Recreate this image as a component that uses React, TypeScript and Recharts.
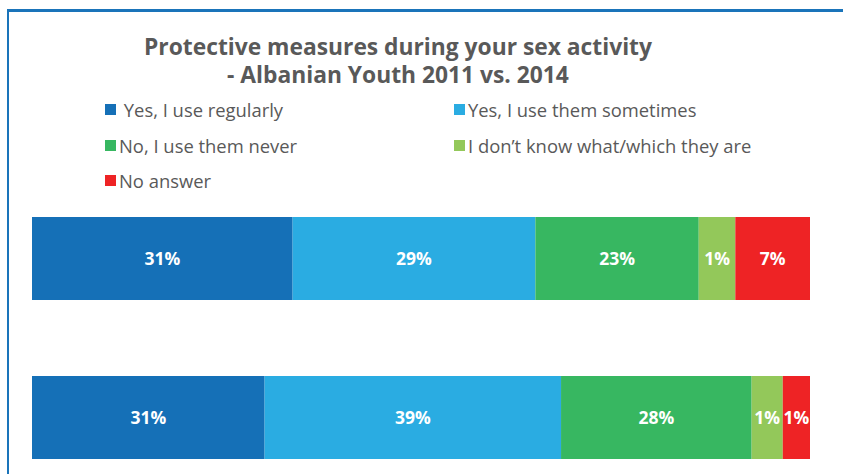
import { BarChart, Bar, XAxis, YAxis, LabelList } from "recharts";

// years shown top to bottom
const years = ["2011", "2014"];

const seriesNames = [
  " Yes, I use regularly",
  "Yes, I use them sometimes",
  "No, I use them never",
  "I don\u2019t know what/which they are",
  "No answer",
];
const seriesKeys = ["regular", "sometimes", "never", "dontKnow", "noAnswer"];
const seriesColors = ["#1570B7", "#2AACE2", "#37B761", "#93C85A", "#EE2325"];

// bar lengths as drawn (share of the full bar)
const regular = [33.5, 29.9];
const sometimes = [31.2, 38.1];
const never = [21.0, 24.5];
const dontKnow = [4.7, 4.0];
const noAnswer = [9.6, 3.5];

// the printed labels
const regularLabels = ["31%", "31%"];
const sometimesLabels = ["29%", "39%"];
const neverLabels = ["23%", "28%"];
const dontKnowLabels = ["1%", "1%"];
const noAnswerLabels = ["7%", "1%"];

const values = [regular, sometimes, never, dontKnow, noAnswer];
const labels = [regularLabels, sometimesLabels, neverLabels, dontKnowLabels, noAnswerLabels];

const data = years.map((year, i) => {
  const row: Record<string, string | number> = { year };
  seriesKeys.forEach((k, s) => {
    row[k] = values[s][i];
    row[k + "Label"] = labels[s][i];
  });
  return row;
});

const FONT = "'Open Sans', sans-serif";
const GRAY = "#595959";

export default function App() {
  return (
    <div
      style={{
        position: "absolute",
        left: 0,
        top: 0,
        width: 843,
        height: 474,
        overflow: "hidden",
        background: "#fff",
        fontFamily: FONT,
      }}
    >
      {/* frame */}
      <div style={{ position: "absolute", left: 7, top: 9, width: 836, height: 3, background: "#1A74BA" }} />
      <div style={{ position: "absolute", left: 7, top: 9, width: 2, height: 465, background: "#1A74BA" }} />

      <div
        style={{
          position: "absolute",
          left: 0,
          top: 33,
          width: 796,
          textAlign: "center",
          color: GRAY,
          fontWeight: 700,
          fontSize: 22.8,
          lineHeight: "28px",
        }}
      >
        Protective measures during your sex activity
        <br />- Albanian Youth 2011 vs. 2014
      </div>

      {seriesNames.map((name, s) => {
        const col = s % 2;
        const row = Math.floor(s / 2);
        return (
          <div
            key={name}
            style={{
              position: "absolute",
              left: col === 0 ? 105 : 454,
              top: 97.5 + row * 35.5,
              height: 24,
              display: "flex",
              alignItems: "center",
              color: GRAY,
              fontSize: 18.4,
              whiteSpace: "pre",
            }}
          >
            <span style={{ width: 11, height: 11, background: seriesColors[s], marginRight: 3, display: "inline-block" }} />
            {name}
          </div>
        );
      })}

      <div style={{ position: "absolute", left: 0, top: 0 }}>
        <BarChart
          width={843}
          height={497}
          data={data}
          layout="vertical"
          barSize={83}
          margin={{ top: 179, right: 33, bottom: 0, left: 32 }}
        >
          <XAxis type="number" domain={[0, 100]} hide />
          <YAxis type="category" dataKey="year" hide />
          {seriesKeys.map((k, s) => (
            <Bar key={k} dataKey={k} stackId="a" fill={seriesColors[s]} isAnimationActive={false}>
              <LabelList
                dataKey={k + "Label"}
                position="center"
                fill="#fff"
                style={{ fontWeight: 700, fontSize: 17.5, fontFamily: FONT }}
              />
            </Bar>
          ))}
        </BarChart>
      </div>
    </div>
  );
}
